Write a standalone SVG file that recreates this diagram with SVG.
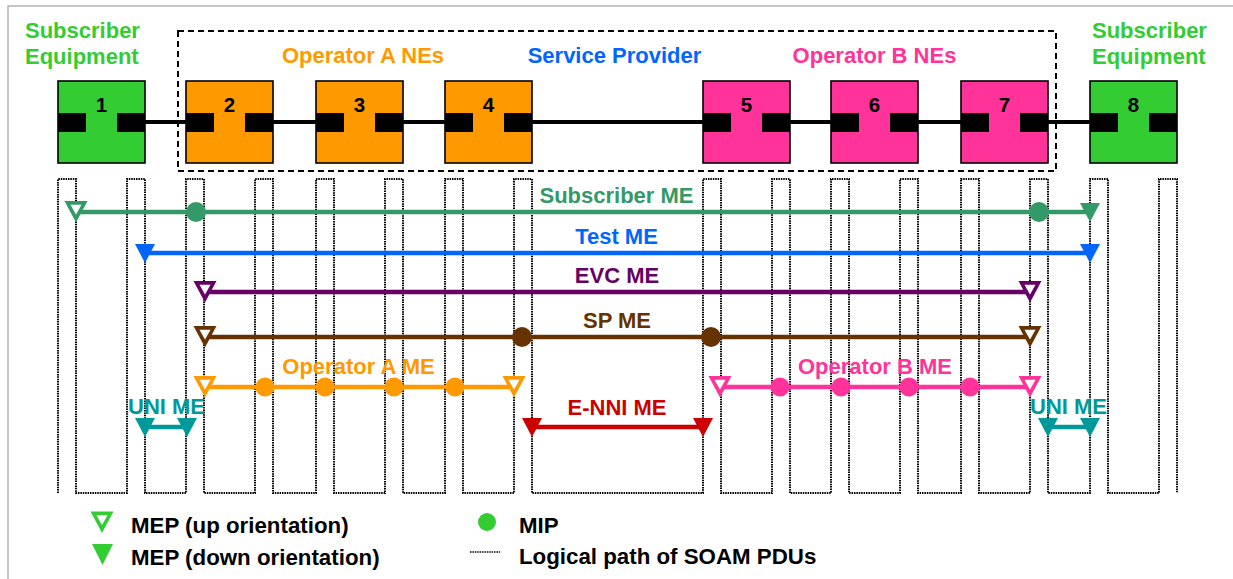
<svg xmlns="http://www.w3.org/2000/svg" xmlns:xlink="http://www.w3.org/1999/xlink" width="1233" height="579" viewBox="0 0 1233 579">
<style>
text{font-family:"Liberation Sans",Arial,sans-serif;font-weight:bold;}
.hd{font-size:22px;}
.me{font-size:22px;text-anchor:middle;}
.num{font-size:20.5px;text-anchor:middle;fill:#000;}
.lg{font-size:22.3px;fill:#000;}
.node{stroke:#000;stroke-width:1.6;}
.port{fill:#000;}
.path{fill:none;stroke:#000;stroke-width:2;stroke-dasharray:1.5 0.9;}
.mel{fill:none;stroke-width:4.5;}
</style>
<defs>
<g id="mepUp"><polygon points="-11.5,-11 11.5,-11 0,10.5" fill="currentColor"/><polygon points="-5.5,-7.3 5.5,-7.3 0,2.5" fill="#fff"/></g>
<polygon id="mepDn" points="-10,-9 10,-9 0,10" fill="currentColor"/>
</defs>
<rect x="8" y="6" width="1240" height="600" fill="#fff" stroke="#b4b4b4" stroke-width="1.5"/>

<g id="labels-top">
<text class="hd" x="25" y="38" fill="#33cc33">Subscriber</text>
<text class="hd" x="25" y="64" fill="#33cc33">Equipment</text>
<text class="hd" x="1092" y="38" fill="#33cc33">Subscriber</text>
<text class="hd" x="1092" y="64" fill="#33cc33">Equipment</text>
<text class="hd" x="363" y="63" fill="#ff9900" text-anchor="middle">Operator A NEs</text>
<text class="hd" x="614.5" y="63" fill="#0066ff" text-anchor="middle">Service Provider</text>
<text class="hd" x="874.5" y="63" fill="#ff3399" text-anchor="middle">Operator B NEs</text>
</g>

<g id="connectors">
<line x1="145" y1="122" x2="1090" y2="122" stroke="#000" stroke-width="4"/>
<polyline class="path" points="58,493 58,179 76,179 76,493 127,493 127,179 145,179 145,493 186,493 186,179 204,179 204,493 255,493 255,179 273,179 273,493 316,493 316,179 334,179 334,493 385,493 385,179 403,179 403,493 445,493 445,179 463,179 463,493 514,493 514,179 532,179 532,493 703,493 703,179 721,179 721,493 772,493 772,179 790,179 790,493 831,493 831,179 849,179 849,493 900,493 900,179 918,179 918,493 961,493 961,179 979,179 979,493 1030,493 1030,179 1048,179 1048,493 1090,493 1090,179 1108,179 1108,493 1159,493 1159,179 1177,179 1177,493"/>
</g>

<g id="node1"><rect class="node" x="58" y="81" width="87" height="82" fill="#33cc33"/><rect class="port" x="58" y="113" width="28" height="19"/><rect class="port" x="117" y="113" width="28" height="19"/><text class="num" x="101.5" y="112">1</text></g>
<g id="node2"><rect class="node" x="186" y="81" width="87" height="82" fill="#ff9900"/><rect class="port" x="186" y="113" width="28" height="19"/><rect class="port" x="245" y="113" width="28" height="19"/><text class="num" x="229.5" y="112">2</text></g>
<g id="node3"><rect class="node" x="316" y="81" width="87" height="82" fill="#ff9900"/><rect class="port" x="316" y="113" width="28" height="19"/><rect class="port" x="375" y="113" width="28" height="19"/><text class="num" x="359.5" y="112">3</text></g>
<g id="node4"><rect class="node" x="445" y="81" width="87" height="82" fill="#ff9900"/><rect class="port" x="445" y="113" width="28" height="19"/><rect class="port" x="504" y="113" width="28" height="19"/><text class="num" x="488.5" y="112">4</text></g>
<g id="node5"><rect class="node" x="703" y="81" width="87" height="82" fill="#ff3399"/><rect class="port" x="703" y="113" width="28" height="19"/><rect class="port" x="762" y="113" width="28" height="19"/><text class="num" x="746.5" y="112">5</text></g>
<g id="node6"><rect class="node" x="831" y="81" width="87" height="82" fill="#ff3399"/><rect class="port" x="831" y="113" width="28" height="19"/><rect class="port" x="890" y="113" width="28" height="19"/><text class="num" x="874.5" y="112">6</text></g>
<g id="node7"><rect class="node" x="961" y="81" width="87" height="82" fill="#ff3399"/><rect class="port" x="961" y="113" width="28" height="19"/><rect class="port" x="1020" y="113" width="28" height="19"/><text class="num" x="1004.5" y="112">7</text></g>
<g id="node8"><rect class="node" x="1090" y="81" width="87" height="82" fill="#33cc33"/><rect class="port" x="1090" y="113" width="28" height="19"/><rect class="port" x="1149" y="113" width="28" height="19"/><text class="num" x="1133.5" y="112">8</text></g>

<g id="provider-box"><rect x="178" y="31" width="878" height="140" fill="none" stroke="#000" stroke-width="2" stroke-dasharray="6 4"/></g>

<g id="subscriber-me" style="color:#339966">
<text class="me" x="616.5" y="203" fill="#339966">Subscriber ME</text>
<line class="mel" x1="76" y1="212" x2="1090" y2="212" stroke="#339966"/>
<use xlink:href="#mepUp" x="76" y="212"/>
<circle cx="196" cy="212" r="10" fill="#339966"/>
<circle cx="1039" cy="212" r="10" fill="#339966"/>
<use xlink:href="#mepDn" x="1090" y="212"/>
</g>
<g id="test-me" style="color:#0066ff">
<text class="me" x="616.5" y="244" fill="#0066ff">Test ME</text>
<line class="mel" x1="145" y1="253" x2="1090" y2="253" stroke="#0066ff"/>
<use xlink:href="#mepDn" x="145" y="253"/>
<use xlink:href="#mepDn" x="1090" y="253"/>
</g>
<g id="evc-me" style="color:#660066">
<text class="me" x="617" y="283" fill="#660066">EVC ME</text>
<line class="mel" x1="205" y1="292" x2="1030" y2="292" stroke="#660066"/>
<use xlink:href="#mepUp" x="205" y="292"/>
<use xlink:href="#mepUp" x="1030" y="292"/>
</g>
<g id="sp-me" style="color:#663300">
<text class="me" x="617" y="328" fill="#663300">SP ME</text>
<line class="mel" x1="205" y1="337" x2="1030" y2="337" stroke="#663300"/>
<use xlink:href="#mepUp" x="205" y="337"/>
<use xlink:href="#mepUp" x="1030" y="337"/>
<circle cx="522" cy="337" r="10" fill="#663300"/>
<circle cx="711" cy="337" r="10" fill="#663300"/>
</g>
<g id="operator-a-me" style="color:#ff9900">
<text class="me" x="358.5" y="374" fill="#ff9900">Operator A ME</text>
<line class="mel" x1="205" y1="387" x2="514" y2="387" stroke="#ff9900"/>
<use xlink:href="#mepUp" x="205" y="387"/>
<use xlink:href="#mepUp" x="514" y="387"/>
<circle cx="265" cy="387" r="9.5" fill="#ff9900"/>
<circle cx="325" cy="387" r="9.5" fill="#ff9900"/>
<circle cx="394" cy="387" r="9.5" fill="#ff9900"/>
<circle cx="455" cy="387" r="9.5" fill="#ff9900"/>
</g>
<g id="operator-b-me" style="color:#ff3399">
<text class="me" x="875" y="374" fill="#ff3399">Operator B ME</text>
<line class="mel" x1="720" y1="387" x2="1030" y2="387" stroke="#ff3399"/>
<use xlink:href="#mepUp" x="720" y="387"/>
<use xlink:href="#mepUp" x="1030" y="387"/>
<circle cx="780" cy="387" r="9.5" fill="#ff3399"/>
<circle cx="841" cy="387" r="9.5" fill="#ff3399"/>
<circle cx="909" cy="387" r="9.5" fill="#ff3399"/>
<circle cx="970" cy="387" r="9.5" fill="#ff3399"/>
</g>
<g id="uni-me-left" style="color:#009999">
<text class="me" x="166.5" y="414" fill="#009999">UNI ME</text>
<line class="mel" x1="145" y1="427" x2="187" y2="427" stroke="#009999"/>
<use xlink:href="#mepDn" x="145" y="427"/>
<use xlink:href="#mepDn" x="187" y="427"/>
</g>
<g id="enni-me" style="color:#cc0000">
<text class="me" x="617" y="415" fill="#cc0000">E-NNI ME</text>
<line class="mel" x1="532" y1="427" x2="703" y2="427" stroke="#cc0000"/>
<use xlink:href="#mepDn" x="532" y="427"/>
<use xlink:href="#mepDn" x="703" y="427"/>
</g>
<g id="uni-me-right" style="color:#009999">
<text class="me" x="1068.5" y="414" fill="#009999">UNI ME</text>
<line class="mel" x1="1048" y1="427" x2="1090" y2="427" stroke="#009999"/>
<use xlink:href="#mepDn" x="1048" y="427"/>
<use xlink:href="#mepDn" x="1090" y="427"/>
</g>

<g id="legend" style="color:#33cc33">
<use xlink:href="#mepUp" x="102" y="522.5"/>
<text class="lg" x="131" y="533">MEP (up orientation)</text>
<polygon points="92,544 113,544 102.5,565" fill="#33cc33"/>
<text class="lg" x="131" y="565">MEP (down orientation)</text>
<circle cx="487" cy="522" r="9" fill="#33cc33"/>
<text class="lg" x="519" y="533">MIP</text>
<line x1="470" y1="552" x2="500" y2="552" stroke="#000" stroke-width="1.6" stroke-dasharray="1.5 0.9"/>
<text class="lg" x="519" y="564">Logical path of SOAM PDUs</text>
</g>
</svg>
